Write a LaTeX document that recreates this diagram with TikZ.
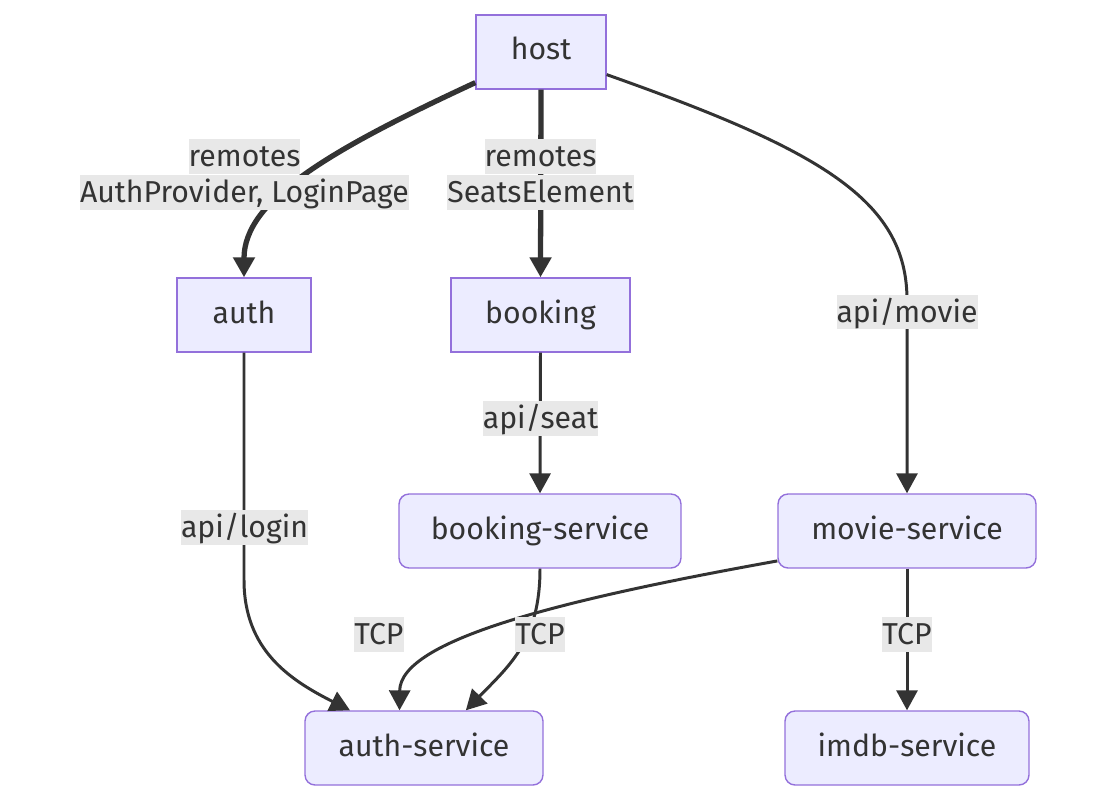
\documentclass[tikz,border=0pt]{standalone}
\usepackage{fontspec}
\setmainfont{Fira Sans}
\usepackage{tikz}
\usetikzlibrary{arrows.meta,positioning}
\definecolor{nodefill}{HTML}{ECECFF}
\definecolor{nodeline}{HTML}{9370DB}
\definecolor{edgecol}{HTML}{333333}
\definecolor{lblgray}{HTML}{E8E8E8}
\tikzstyle{mybox} = [draw=nodeline, line width=0.8pt, rectangle, fill=nodefill, text=edgecol, minimum height=1.48cm, inner sep=0pt, text height=0.5cm, text depth=0.18cm, font=\fontsize{17.2}{20}\selectfont]
\tikzstyle{myrbox} = [mybox, rounded corners=0.2cm]
\tikzstyle{mylabel} = [fill=lblgray, text=edgecol, inner xsep=0pt, inner ysep=0pt, text height=0.55cm, text depth=0.15cm, font=\fontsize{17.2}{20}\selectfont]
\tikzstyle{myedge} = [draw=edgecol, line width=1.7pt, -{Triangle[length=0.4cm,width=0.42cm]}]
\tikzstyle{mythick} = [myedge, line width=3pt]

\begin{document}
\begin{tikzpicture}[x=0.02cm, y=-0.02cm]
        \useasboundingbox (0,0) rectangle (1116,801);
        \node [mybox, minimum width=2.6cm] (host) at (541,52) {host};
        \node [mybox, minimum width=2.68cm] (auth) at (244,315) {auth};
        \node [mybox, minimum width=3.58cm] (booking) at (540.5,315) {booking};
        \node [myrbox, minimum width=5.64cm] (bsvc) at (540,531) {booking-service};
        \node [myrbox, minimum width=5.16cm] (msvc) at (907,531) {movie-service};
        \node [myrbox, minimum width=4.76cm] (asvc) at (424,748) {auth-service};
        \node [myrbox, minimum width=4.88cm] (isvc) at (907,748) {imdb-service};

        \draw [mythick] (host.205) .. controls (330,150) and (244,200) .. (auth.north);
        \draw [mythick] (host.south) -- (booking.north);
        \draw [myedge] (host.-19) .. controls (820,150) and (907,200) .. (907,300) -- (msvc.north);
        \draw [myedge] (booking.south) -- (bsvc.north);
        \draw [myedge] (auth.south) -- (244,580) .. controls (244,650) and (290,680) .. (asvc.153);
        \draw [myedge] (bsvc.south) .. controls (540,640) and (510,665) .. (asvc.42);
        \draw [myedge] (msvc.193) .. controls (560,600) and (400,640) .. (asvc.123);
        \draw [myedge] (msvc.south) -- (isvc.north);

        \node [mylabel] (lblauth) at (244.5,156.5) {remotes};
        \node [mylabel, below=0pt of lblauth] (lblauthb) {AuthProvider, LoginPage};
        \node [mylabel] (lblbook) at (540.5,156.5) {remotes};
        \node [mylabel, below=0pt of lblbook] (lblbookb) {SeatsElement};
        \node [mylabel] (lblmovie) at (907,312) {api/movie};
        \node [mylabel] (lblseat) at (540.5,418) {api/seat};
        \node [mylabel] (lbllogin) at (244.5,527) {api/login};
        \node [mylabel] (lbltcpa) at (379,634.5) {TCP};
        \node [mylabel] (lbltcpb) at (540,634.5) {TCP};
        \node [mylabel] (lbltcpc) at (907,634.5) {TCP};
    \end{tikzpicture}
\end{document}
